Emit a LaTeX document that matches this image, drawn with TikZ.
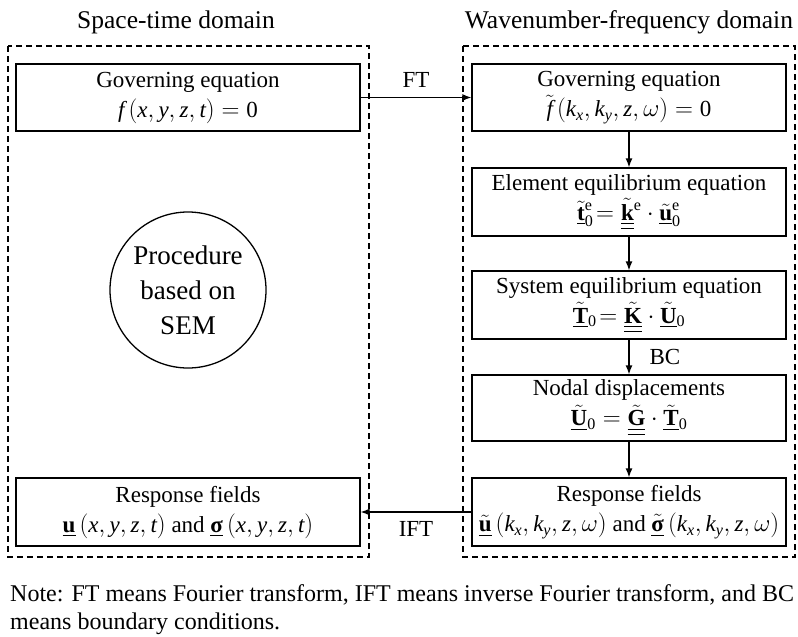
\documentclass[tikz,border=0pt]{standalone}
\usepackage{amsmath}
\usepackage{fontspec}
\setmainfont{Liberation Serif}
\usetikzlibrary{arrows.meta}
\newcommand{\ul}[1]{\underline{#1}}
\newcommand{\uul}[1]{\underline{\underline{#1}}}
\newcommand{\tb}[1]{\tilde{\mathbf{#1}}}
\newcommand{\zr}{\mathrm{0}}
\newcommand{\bsig}{\text{\bfseries σ}}
\begin{document}
\begin{tikzpicture}[x=1pt,y=-1pt,
  every node/.style={inner sep=0pt},
  domtitle/.style={font=\fontsize{25.5}{30}\selectfont},
  dombox/.style={draw,densely dashed,dash pattern=on 6pt off 4pt,line width=1.3pt},
  stepbox/.style={draw,line width=1.3pt,align=center,font=\fontsize{23}{28}\selectfont},
  conn/.style={line width=1.3pt,-{Latex[length=9pt,width=7pt]}},
  lbl/.style={font=\fontsize{23}{28}\selectfont}]
\useasboundingbox (0,0) rectangle (798,637);
% domain frames
\draw[dombox] (8,46) rectangle (369,557);
\draw[dombox] (463,46) rectangle (795,557);
\node[domtitle] (tl) at (176,22) {Space-time domain};
\node[domtitle] (tr) at (629,22) {Wavenumber-frequency domain};
% left column
\node[stepbox,minimum width=344pt,minimum height=67pt] (lg) at (188,97.5)
  {Governing equation\\[2pt] $\mathit{f}\left(\mathit{x},\mathit{y},\mathit{z},\mathit{t}\right)=\zr$};
\node[draw,circle,line width=1.3pt,minimum size=156pt,align=center,font=\fontsize{27}{35}\selectfont] (sem) at (188,290)
  {Procedure\\based on\\SEM};
\node[stepbox,minimum width=344pt,minimum height=68pt] (lr) at (188,512)
  {Response fields\\[2pt] $\ul{\mathbf{u}}\left(\mathit{x},\mathit{y},\mathit{z},\mathit{t}\right)$ and $\ul{\bsig}\left(\mathit{x},\mathit{y},\mathit{z},\mathit{t}\right)$};
% right column
\node[stepbox,minimum width=314pt,minimum height=67pt] (rg) at (629,97.5)
  {Governing equation\\[2pt] $\tilde{\mathit{f}}\left(\mathit{k}_{\mathit{x}},\mathit{k}_{\mathit{y}},\mathit{z},\omega\right)=\zr$};
\node[stepbox,minimum width=314pt,minimum height=68pt] (re) at (629,202)
  {Element equilibrium equation\\[2pt] $\ul{\tb{t}}{}_{\zr}^{\mathrm{e}}\!=\uul{\tb{k}}{}^{\mathrm{e}}\cdot\ul{\tb{u}}{}_{\zr}^{\mathrm{e}}$};
\node[stepbox,minimum width=314pt,minimum height=68pt] (rs) at (629,305)
  {System equilibrium equation\\[2pt] $\ul{\tb{T}}{}_{\zr}\!=\uul{\tb{K}}\cdot\ul{\tb{U}}{}_{\zr}$};
\node[stepbox,minimum width=314pt,minimum height=66pt] (rn) at (629,408)
  {Nodal displacements\\[2pt] $\ul{\tb{U}}{}_{\zr}=\uul{\tb{G}}\cdot\ul{\tb{T}}{}_{\zr}$};
\node[stepbox,minimum width=314pt,minimum height=68pt] (rr) at (629,512)
  {Response fields\\[2pt] $\ul{\tb{u}}\left(\mathit{k}_{\mathit{x}},\mathit{k}_{\mathit{y}},\mathit{z},\omega\right)$ and $\ul{\tilde{\bsig}}\left(\mathit{k}_{\mathit{x}},\mathit{k}_{\mathit{y}},\mathit{z},\omega\right)$};
% connectors
\draw[conn] (lg.east) -- node[lbl,above=9pt] (ft) {FT} (rg.west);
\draw[conn] (rr.west) -- node[lbl,below=9pt] (ift) {IFT} (lr.east);
\draw[conn] (rg) -- (re);
\draw[conn] (re) -- (rs);
\draw[conn] (rs) -- node[lbl,right=20pt] (bc) {BC} (rn);
\draw[conn] (rn) -- (rr);
% note
\node[anchor=north west,align=left,font=\fontsize{24}{28}\selectfont] (note) at (10,584)
  {Note: FT means Fourier transform, IFT means inverse Fourier transform, and BC\\means boundary conditions.};
\end{tikzpicture}
\end{document}
